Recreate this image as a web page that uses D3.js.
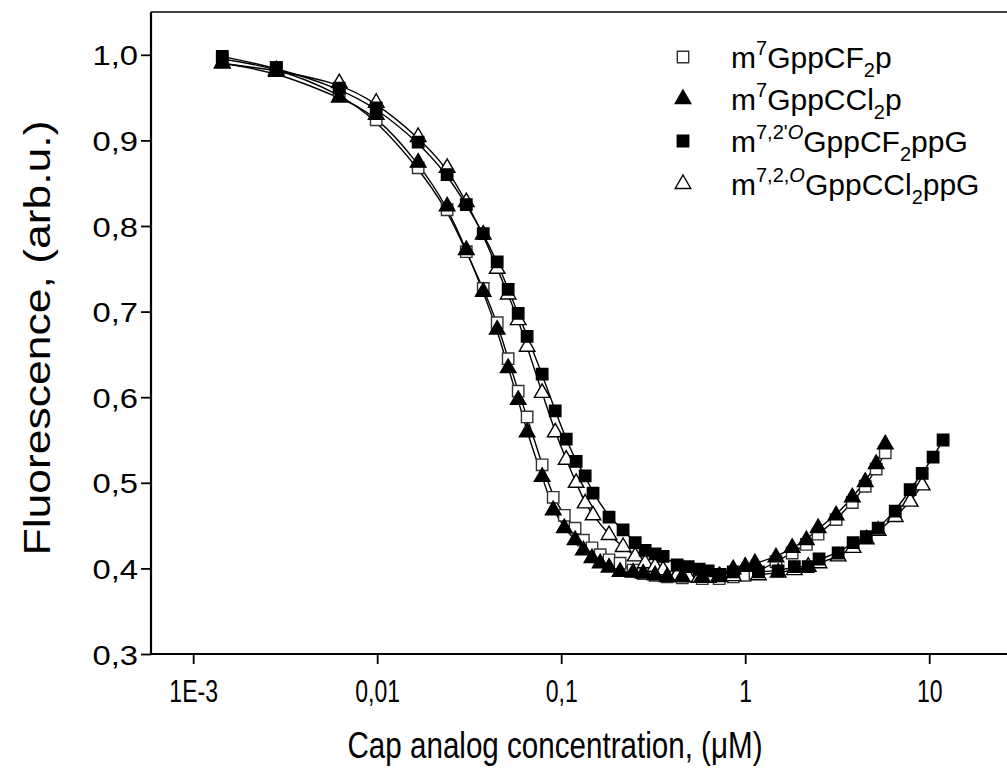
<!DOCTYPE html>
<html>
<head>
<meta charset="utf-8">
<script src="https://cdnjs.cloudflare.com/ajax/libs/d3/7.8.5/d3.min.js"></script>
<style>
  body { margin: 0; background: #fff; }
  text { font-family: "Liberation Sans", Arial, sans-serif; fill: #000; }
</style>
</head>
<body>
<div id="chart"></div>
<script>
// concentrations (uM) for the m7Gpp... pair and the m7,2'O ...ppG pair
var concA = [0.00144, 0.00283, 0.00622, 0.00988, 0.0167, 0.0240, 0.0305, 0.0377, 0.0449, 0.0515,
  0.0584, 0.0653, 0.0788, 0.0905, 0.104, 0.119, 0.132, 0.147, 0.163, 0.182,
  0.209, 0.246, 0.279, 0.324, 0.377, 0.455, 0.584, 0.722, 0.861, 1.00,
  1.13, 1.47, 1.80, 2.15, 2.49, 3.12, 3.82, 4.49, 5.15, 5.77];
var concB = [0.00144, 0.00283, 0.00622, 0.00988, 0.0167, 0.0240, 0.0305, 0.0377, 0.0449, 0.0515,
  0.0584, 0.0653, 0.0788, 0.0928, 0.1065, 0.1206, 0.135, 0.149, 0.182, 0.217,
  0.2525, 0.286, 0.324, 0.358, 0.427, 0.490, 0.562, 0.629, 0.731, 0.861,
  1.18, 1.51, 1.85, 2.20, 2.52, 3.20, 3.86, 4.55, 5.28, 6.54,
  7.88, 9.16, 10.5, 11.9];

// fluorescence (arb.u.)
var fluoCF2p = [0.995, 0.985, 0.955, 0.924, 0.868, 0.819, 0.770, 0.727, 0.687, 0.645,
  0.607, 0.577, 0.521, 0.483, 0.462, 0.447, 0.433, 0.424, 0.416, 0.410,
  0.406, 0.398, 0.394, 0.392, 0.390, 0.389, 0.388, 0.388, 0.390, 0.392,
  0.394, 0.408, 0.418, 0.428, 0.440, 0.457, 0.477, 0.496, 0.516, 0.535];
var fluoCCl2p = [0.990, 0.980, 0.950, 0.930, 0.874, 0.823, 0.772, 0.723, 0.679, 0.634,
  0.597, 0.559, 0.507, 0.468, 0.447, 0.433, 0.421, 0.412, 0.406, 0.401,
  0.396, 0.395, 0.394, 0.392, 0.390, 0.390, 0.390, 0.391, 0.399, 0.402,
  0.406, 0.413, 0.424, 0.433, 0.447, 0.462, 0.483, 0.501, 0.522, 0.545];
var fluoCF2ppG = [0.998, 0.985, 0.961, 0.938, 0.898, 0.860, 0.825, 0.791, 0.758, 0.726,
  0.698, 0.671, 0.627, 0.584, 0.551, 0.525, 0.508, 0.488, 0.460, 0.445,
  0.430, 0.421, 0.417, 0.414, 0.404, 0.402, 0.399, 0.397, 0.393, 0.396,
  0.396, 0.397, 0.402, 0.402, 0.411, 0.418, 0.430, 0.437, 0.447, 0.467,
  0.492, 0.511, 0.530, 0.550];
var fluoCCl2ppG = [0.990, 0.982, 0.967, 0.944, 0.904, 0.868, 0.828, 0.790, 0.750, 0.720,
  0.690, 0.659, 0.605, 0.559, 0.527, 0.500, 0.476, 0.462, 0.439, 0.425,
  0.414, 0.406, 0.402, 0.398, 0.392, 0.390, 0.389, 0.389, 0.390, 0.391,
  0.392, 0.395, 0.398, 0.402, 0.406, 0.414, 0.424, 0.434, 0.444, 0.460,
  0.478, 0.497];

var xMajor = [0.001, 0.01, 0.1, 1, 10];
var xLabels = ["1E-3", "0,01", "0,1", "1", "10"];
var yMajor = [0.3, 0.4, 0.5, 0.6, 0.7, 0.8, 0.9, 1.0];
var yLabels = ["0,3", "0,4", "0,5", "0,6", "0,7", "0,8", "0,9", "1,0"];

var width = 1007, height = 772;

var svg = d3.select("#chart").append("svg")
  .attr("width", width).attr("height", height)
  .style("background", "#fff");

var x = d3.scaleLog().domain([5.9e-4, 30]).range([151, 1017]);
var y = d3.scaleLinear().domain([0.3, 1.05]).range([654, 12]);

// minor ticks
var xMinor = [];
[0.0001, 0.001, 0.01, 0.1, 1, 10].forEach(function (d) {
  for (var k = 2; k <= 9; k++) {
    var v = d * k;
    if (v > x.domain()[0] && v < x.domain()[1]) xMinor.push(v);
  }
});
var yMinor = d3.range(0.35, 1.0, 0.1);

// frame (top border, left and bottom axes)
svg.append("line")
  .attr("x1", 151).attr("x2", 1017).attr("y1", 12).attr("y2", 12)
  .attr("stroke", "#000").attr("stroke-width", 1.5);

var gx = svg.append("g").attr("transform", "translate(0,654)");
gx.call(d3.axisBottom(x).tickValues(xMinor).tickSize(6).tickFormat(""));
gx.call(d3.axisBottom(x).tickValues(xMajor).tickSize(10).tickFormat(function (d, i) { return xLabels[i]; }));
gx.selectAll(".domain").attr("stroke-width", 2.2).attr("d", "M151,0H1017");
gx.selectAll(".tick line").attr("stroke-width", 1.8);
gx.selectAll(".tick text")
  .attr("y", 0).attr("dy", 0)
  .attr("transform", "translate(0,48) scale(0.72,1)")
  .style("font-size", "32px");

var gy = svg.append("g").attr("transform", "translate(151,0)");
gy.call(d3.axisLeft(y).tickValues(yMinor).tickSize(6).tickFormat(""));
gy.call(d3.axisLeft(y).tickValues(yMajor).tickSize(10).tickFormat(function (d, i) { return yLabels[i]; }));
gy.selectAll(".domain").attr("stroke-width", 2.2).attr("d", "M0,12V654");
gy.selectAll(".tick line").attr("stroke-width", 1.8);
gy.selectAll(".tick text")
  .attr("x", 0).attr("dy", "0.36em")
  .attr("transform", "translate(-13,0) scale(1.17,1)")
  .style("font-size", "28px");

// axis titles
svg.append("text")
  .attr("x", 555).attr("y", 758)
  .attr("text-anchor", "middle")
  .attr("textLength", 415).attr("lengthAdjust", "spacingAndGlyphs")
  .style("font-size", "36px")
  .text("Cap analog concentration, (\u03BCM)");

svg.append("text")
  .attr("transform", "translate(50,338) rotate(-90)")
  .attr("text-anchor", "middle")
  .attr("textLength", 435).attr("lengthAdjust", "spacingAndGlyphs")
  .style("font-size", "36px")
  .text("Fluorescence, (arb.u.)");

// series
function pts(conc, fluo) {
  return fluo.map(function (f, i) { return { c: conc[i], f: f }; });
}
var series = [
  { data: pts(concA, fluoCF2p), shape: "square", fill: "#fff", stroke: "#333" },
  { data: pts(concB, fluoCCl2ppG), shape: "triangle", fill: "#fff", stroke: "#000" },
  { data: pts(concB, fluoCF2ppG), shape: "square", fill: "#000", stroke: "#000" },
  { data: pts(concA, fluoCCl2p), shape: "triangle", fill: "#000", stroke: "#000" }
];

var line = d3.line()
  .x(function (d) { return x(d.c); })
  .y(function (d) { return y(d.f); })
  .curve(d3.curveBasis);

series.forEach(function (s) {
  svg.append("path")
    .datum(s.data)
    .attr("d", line)
    .attr("fill", "none")
    .attr("stroke", "#000")
    .attr("stroke-width", 1.4);
});

var sq = d3.symbol().type(d3.symbolSquare).size(130);
var tri = d3.symbol().type(d3.symbolTriangle).size(105);

series.forEach(function (s) {
  svg.append("g").selectAll("path")
    .data(s.data)
    .enter().append("path")
    .attr("transform", function (d) { return "translate(" + x(d.c) + "," + y(d.f) + ")"; })
    .attr("d", s.shape === "square" ? sq : tri)
    .attr("fill", s.fill)
    .attr("stroke", s.stroke)
    .attr("stroke-width", 1.4);
});

// legend
var legend = [
  { shape: "square", fill: "#fff", stroke: "#333", parts: [["m", 0], ["7", 1], ["GppCF", 0], ["2", -1], ["p", 0]] },
  { shape: "triangle", fill: "#000", stroke: "#000", parts: [["m", 0], ["7", 1], ["GppCCl", 0], ["2", -1], ["p", 0]] },
  { shape: "square", fill: "#000", stroke: "#000", parts: [["m", 0], ["7,2'", 1], ["O", 2], ["GppCF", 0], ["2", -1], ["ppG", 0]] },
  { shape: "triangle", fill: "#fff", stroke: "#000", parts: [["m", 0], ["7,2,", 1], ["O", 2], ["GppCCl", 0], ["2", -1], ["ppG", 0]] }
];
var legendY = [57, 99, 141, 184];

legend.forEach(function (l, i) {
  var ly = legendY[i];
  svg.append("path")
    .attr("transform", "translate(683," + ly + ")")
    .attr("d", l.shape === "square" ? sq : tri)
    .attr("fill", l.fill)
    .attr("stroke", l.stroke)
    .attr("stroke-width", 1.4);
  var t = svg.append("text")
    .attr("x", 731).attr("y", ly + 11)
    .style("font-size", "30px");
  var level = 0;
  l.parts.forEach(function (p) {
    var target = p[1] === 2 ? 1 : p[1];
    var shift = { "0": 0, "1": -13, "-1": 9 };
    var dy = shift[target] - shift[level];
    var ts = t.append("tspan").attr("dy", dy).text(p[0]);
    if (target !== 0) ts.style("font-size", "20px");
    if (p[1] === 2) ts.style("font-style", "italic");
    level = target;
  });
});
</script>
</body>
</html>
